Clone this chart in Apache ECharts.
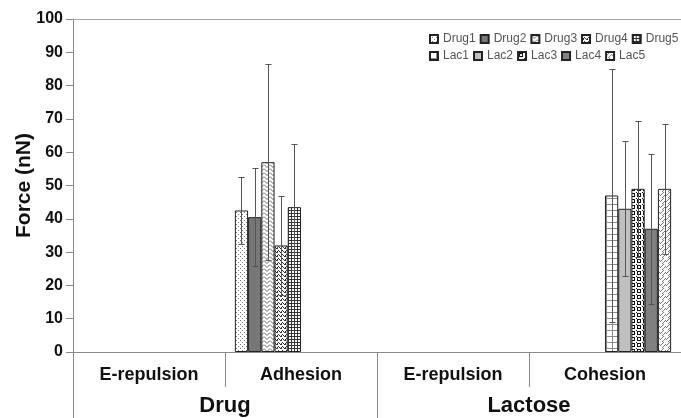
<!DOCTYPE html>
<html><head><meta charset="utf-8">
<script src="https://cdn.jsdelivr.net/npm/echarts@6/dist/echarts.min.js"></script>
<style>html,body{margin:0;padding:0;background:#fff}#c{width:681px;height:418px}</style>
</head><body><div id="c"></div>
<script>
// ---- data ----
const categories = ['E-repulsion', 'Adhesion', 'E-repulsion', 'Cohesion'];
const groups = ['Drug', 'Lactose'];
const drugNames = ['Drug1', 'Drug2', 'Drug3', 'Drug4', 'Drug5'];
const lacNames = ['Lac1', 'Lac2', 'Lac3', 'Lac4', 'Lac5'];
const drugMeans = [42.5, 40.5, 57, 32, 43.5];
const drugErrs = [10.2, 14.7, 29.5, 14.8, 19];
const lacMeans = [47, 43, 49, 37, 49];
const lacErrs = [38, 20.3, 20.5, 22.5, 19.5];
const drugCat = 1, lacCat = 3;

// ---- patterns ----
function mk(w, h, draw) {
  const c = document.createElement('canvas'); c.width = w; c.height = h;
  const g = c.getContext('2d'); g.fillStyle = '#fff'; g.fillRect(0, 0, w, h); draw(g);
  return { image: c, repeat: 'repeat' };
}
function px(g, col, pts) { g.fillStyle = col; pts.forEach(p => g.fillRect(p[0], p[1], 1, 1)); }
const patterns = {
  Drug1: mk(4, 4, g => px(g, '#777', [[0,0],[2,2]])),
  Drug2: '#777777',
  Drug3: mk(6, 4, g => { g.strokeStyle = '#666'; g.lineWidth = 1; g.beginPath(); g.moveTo(0, 0.5); g.lineTo(3, 3.5); g.lineTo(6, 0.5); g.stroke(); }),
  Drug4: mk(4, 4, g => px(g, '#333', [[0,0],[1,0],[2,2],[3,3],[1,3]])),
  Drug5: mk(3, 3, g => { g.fillStyle = '#333'; g.fillRect(0, 0, 3, 1); g.fillRect(0, 0, 1, 3); }),
  Lac1: mk(6, 6, g => { g.fillStyle = '#8c8c8c'; g.fillRect(0, 0, 6, 1); g.fillRect(0, 0, 1, 6); }),
  Lac2: '#c0c0c0',
  Lac3: mk(6, 6, g => { g.fillStyle = '#111'; g.fillRect(1, 1, 4, 4); g.fillStyle = '#fff'; g.fillRect(2, 2, 2, 2); g.fillStyle = '#111'; g.fillRect(0, 0, 1, 1); }),
  Lac4: '#808080',
  Lac5: mk(6, 6, g => { g.strokeStyle = '#777'; g.lineWidth = 1; g.beginPath(); for (let k = -6; k <= 12; k += 4) { g.moveTo(k, 6); g.lineTo(k + 6, 0); } g.stroke(); })
};

const GAP = 0.13;
const FONT = 'Liberation Sans, Arial, sans-serif';
const allNames = drugNames.concat(lacNames);

const series = [];
allNames.forEach((n, i) => {
  const isDrug = i < 5;
  const data = categories.map(() => '-');
  if (isDrug) data[drugCat] = drugMeans[i]; else data[lacCat] = lacMeans[i - 5];
  series.push({
    name: n, type: 'bar', xAxisIndex: 0, yAxisIndex: 0, data,
    barGap: '0%', barCategoryGap: (GAP * 100) + '%',
    itemStyle: { color: patterns[n], borderColor: '#222', borderWidth: 1 },
    emphasis: { disabled: true }, z: 2
  });
});
allNames.forEach((n, i) => {
  const isDrug = i < 5;
  const d = isDrug ? [drugCat, drugMeans[i], drugErrs[i]] : [lacCat, lacMeans[i - 5], lacErrs[i - 5]];
  series.push({
    name: 'err-' + n, type: 'custom', xAxisIndex: 0, yAxisIndex: 0, z: 5,
    data: [d], encode: { x: 0, y: 1 },
    renderItem: (params, api) => {
      const ci = api.value(0), m = api.value(1), e = api.value(2);
      const catW = api.size([1, 0])[0];
      const total = catW * (1 - GAP);
      const bw = total / 10;
      const x = Math.round(api.coord([ci, 0])[0] - total / 2 + bw * (i + 0.5)) + 0.5;
      const yt = Math.round(api.coord([ci, m + e])[1]) + 0.5;
      const yb = Math.round(api.coord([ci, m - e])[1]) + 0.5;
      const st = { stroke: '#555', lineWidth: 1 };
      return { type: 'group', children: [
        { type: 'line', shape: { x1: x, y1: yt, x2: x, y2: yb }, style: st },
        { type: 'line', shape: { x1: x - 3, y1: yt, x2: x + 3, y2: yt }, style: st },
        { type: 'line', shape: { x1: x - 3, y1: yb, x2: x + 3, y2: yb }, style: st }
      ]};
    }
  });
});

const legendCommon = {
  itemWidth: 8, itemHeight: 8, itemGap: 4, padding: 0, orient: 'horizontal',
  icon: 'rect', selectedMode: false,
  formatter: '{a|{name}}',
  textStyle: { fontFamily: FONT, fontSize: 12, color: '#555',
    rich: { a: { width: 34, fontFamily: FONT, fontSize: 12, color: '#555' } } }
};

const chart = echarts.init(document.getElementById('c'), null, { renderer: 'canvas' });
chart.setOption({
  animation: false,
  backgroundColor: '#fff',
  grid: { left: 73, right: 0, top: 19, bottom: 66, containLabel: false, outerBoundsMode: 'none' },
  legend: [
    Object.assign({}, legendCommon, { data: drugNames, left: 429, top: 33 }),
    Object.assign({}, legendCommon, { data: lacNames, left: 429, top: 50 })
  ],
  xAxis: [
    { type: 'category', data: categories, position: 'bottom',
      axisLine: { show: true, lineStyle: { color: '#888', width: 1 } },
      axisTick: { show: true, interval: 0, length: 35, lineStyle: { color: '#888' } },
      axisLabel: { interval: 0, margin: 14, fontFamily: FONT, fontSize: 18, fontWeight: 'bold', color: '#111' },
      splitLine: { show: false } },
    { type: 'category', data: groups, position: 'bottom',
      axisLine: { show: false },
      axisTick: { show: true, interval: 0, length: 66, lineStyle: { color: '#888' } },
      axisLabel: { interval: 0, margin: 43, fontFamily: FONT, fontSize: 22, fontWeight: 'bold', color: '#111' },
      splitLine: { show: false } },
    { type: 'category', data: categories, position: 'top',
      axisLine: { show: true, lineStyle: { color: '#aaa', width: 1 } },
      axisTick: { show: false }, axisLabel: { show: false }, splitLine: { show: false } }
  ],
  yAxis: {
    type: 'value', min: 0, max: 100, interval: 10,
    name: 'Force (nN)', nameLocation: 'middle', nameGap: 38, nameRotate: 90, nameMoveOverlap: false,
    nameTextStyle: { fontFamily: FONT, fontSize: 21, fontWeight: 'bold', color: '#111' },
    axisLine: { show: true, lineStyle: { color: '#888' } },
    axisTick: { show: true, length: 7, lineStyle: { color: '#888' } },
    axisLabel: { margin: 10, fontFamily: FONT, fontSize: 16, fontWeight: 'bold', color: '#111' },
    splitLine: { show: false }
  },
  series
});
</script></body></html>
